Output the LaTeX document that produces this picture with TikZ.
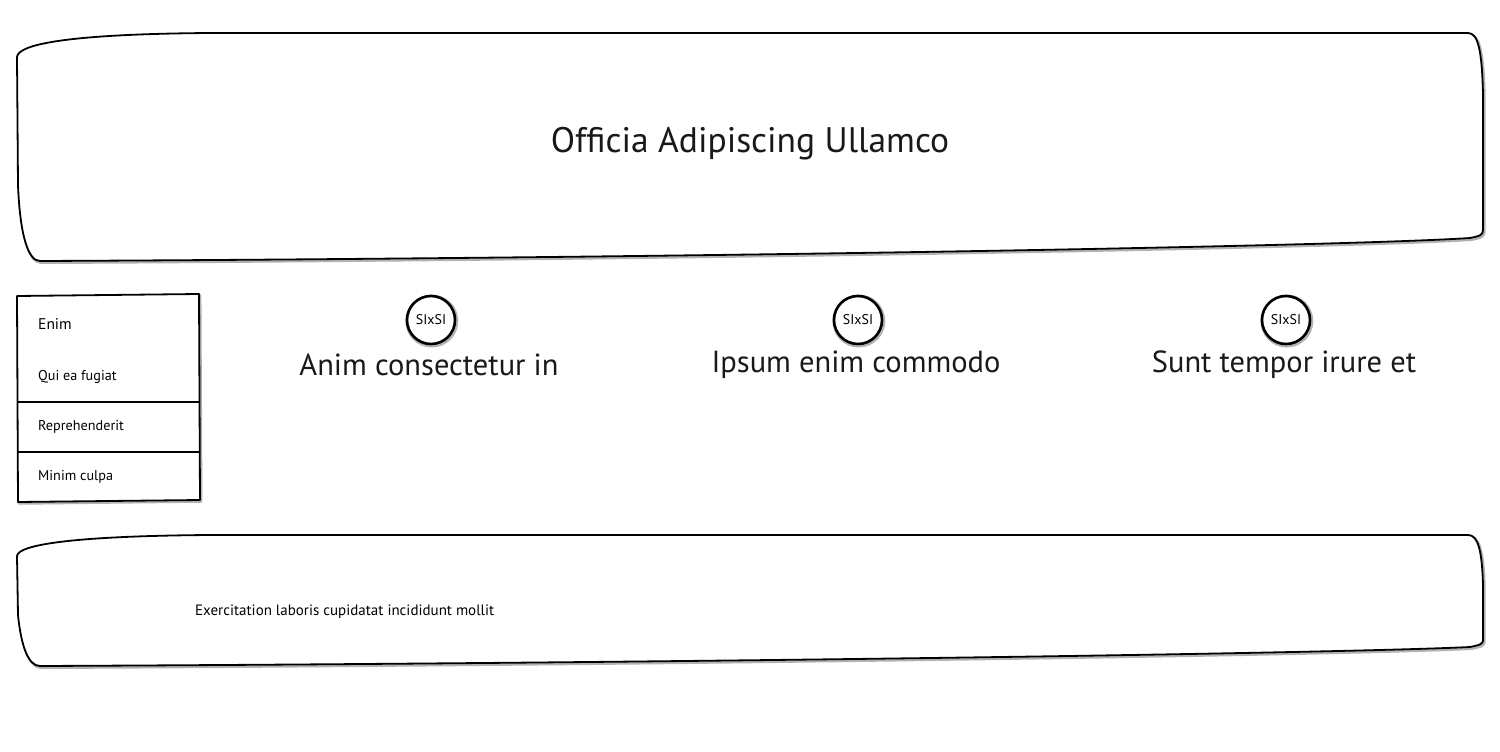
\documentclass[tikz,border=0pt]{standalone}
\usepackage{fontspec}
\setmainfont{PT Sans}
\begin{document}
\begin{tikzpicture}[x=1pt,y=-1pt,
  outline/.style={line width=1.8pt, line join=round, draw=black, fill=white},
  shadowline/.style={line width=3pt, draw=black!30, line join=round, shift={(1.2,1.5)}},
  titletext/.style={font=\fontsize{35.5}{42}\selectfont, text=black!90},
  headtext/.style={font=\fontsize{30.5}{36}\selectfont, text=black!90},
  itemtext/.style={font=\fontsize{14.2}{16}\selectfont, anchor=west, inner sep=0pt},
  smalltext/.style={font=\fontsize{15}{17}\selectfont, anchor=west, inner sep=0pt},
  badge/.style={circle, draw=black, line width=2.6pt, fill=white, minimum size=48pt,
    inner sep=0pt, font=\fontsize{14}{16}\selectfont},
  badgeshadow/.style={circle, draw=black!30, line width=4pt, minimum size=49pt, inner sep=0pt}
]
\useasboundingbox (0,0) rectangle (1500,752);
\fill[white] (0,0) rectangle (1500,752);

% hand-drawn frame outlines
\newcommand\headerframe{(17,57) .. controls (18,44) and (70,34) .. (210,33)
  -- (1468,33) .. controls (1478,33) and (1482,50) .. (1483,95)
  -- (1483,230) .. controls (1483,235) and (1480,236) .. (1470,238)
  .. controls (1350,246) and (700,258) .. (40,261)
  .. controls (28,261) and (20,235) .. (18,185) -- cycle}
\newcommand\footerframe{(17,556) .. controls (18,545) and (70,536) .. (210,535)
  -- (1468,535) .. controls (1478,535) and (1482,550) .. (1483,585)
  -- (1483,640) .. controls (1483,644) and (1480,645) .. (1470,647)
  .. controls (1350,653) and (700,663) .. (40,666)
  .. controls (28,666) and (21,645) .. (18,615) -- cycle}
\newcommand\menuframe{(17,296) -- (199,294) -- (200,500) -- (18,502) -- cycle}

% header
\draw[shadowline] \headerframe;
\draw[outline] \headerframe;
\node[titletext] (title) at (750,144) {Officia Adipiscing Ullamco};

% side menu
\draw[shadowline, line width=2.5pt] \menuframe;
\draw[outline] \menuframe;
\node[itemtext, font=\fontsize{15.5}{18}\selectfont] (m1) at (38,324) {Enim};
\node[itemtext] (m2) at (38,377) {Qui ea fugiat};
\node[itemtext] (m3) at (38,427) {Reprehenderit};
\node[itemtext] (m4) at (38,477) {Minim culpa};
\coordinate (d1l) at (18,402);
\coordinate (d1r) at (199,402);
\coordinate (d2l) at (18,452);
\coordinate (d2r) at (200,452);
\draw[line width=1.8pt] (d1l) -- (d1r);
\draw[line width=1.8pt] (d2l) -- (d2r);

% feature columns
\foreach \n/\x/\label in {1/431/Anim consectetur in, 2/858/Ipsum enim commodo, 3/1286/Sunt tempor irure et}{
  \node[badgeshadow] at (\x+0.8,321) {};
  \node[badge] (b\n) at (\x,320) {SIxSI};
  \node[headtext] (h\n) at (\x-2,365) {\label};
}

% footer
\draw[shadowline] \footerframe;
\draw[outline] \footerframe;
\node[smalltext] (foot) at (195,612) {Exercitation laboris cupidatat incididunt mollit};
\end{tikzpicture}
\end{document}
